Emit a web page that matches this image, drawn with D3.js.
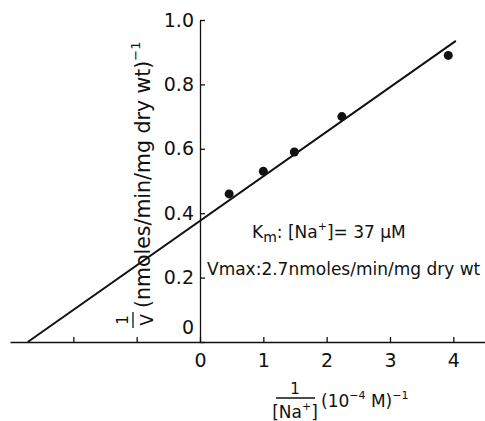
<!DOCTYPE html>
<html>
<head>
<meta charset="utf-8">
<script src="https://cdn.jsdelivr.net/npm/d3@7"></script>
<style>
  body { margin: 0; background: #fff; }
  svg { display: block; }
  text { font-family: "DejaVu Sans", sans-serif; fill: #111; }
</style>
</head>
<body>
<script>
// reciprocal Na+ concentration (10^-4 M)^-1 and reciprocal velocity
const invNa = [0.46, 1.0, 1.49, 2.24, 3.92];
const invV = [0.46, 0.53, 0.59, 0.70, 0.89];

// fitted Lineweaver-Burk line (end points)
const fitX = [-2.72, 4.04];
const fitY = [0, 0.935];

const xTicks = [-2, -1, 0, 1, 2, 3, 4];
const yTicks = [0, 0.2, 0.4, 0.6, 0.8, 1.0];

const width = 485, height = 421;

const svg = d3.select("body").append("svg")
    .attr("width", width)
    .attr("height", height);

const x = d3.scaleLinear().domain([-3, 4.5]).range([10, 485]);
const y = d3.scaleLinear().domain([0, 1]).range([342, 20]);

// x axis, ticks pointing up
const xAxis = svg.append("g")
    .attr("transform", `translate(0,${y(0)})`)
    .call(d3.axisBottom(x)
        .tickValues(xTicks)
        .tickFormat(d => d >= 0 ? d : "")
        .tickSizeInner(-5)
        .tickSizeOuter(0)
        .tickPadding(12));

// y axis, ticks pointing right
const yAxis = svg.append("g")
    .attr("transform", `translate(${x(0)},0)`)
    .call(d3.axisLeft(y)
        .tickValues(yTicks)
        .tickFormat(d => d === 0 ? "0" : d3.format(".1f")(d))
        .tickSizeInner(-5)
        .tickSizeOuter(0)
        .tickPadding(6));

[xAxis, yAxis].forEach(g => {
    g.selectAll("path, line").attr("stroke", "#111").attr("stroke-width", 1.3);
    g.selectAll("text").attr("font-size", 19).attr("fill", "#111");
});
// zero on the y axis sits above the x axis
yAxis.selectAll(".tick text").filter(d => d === 0).attr("dy", "-0.45em");

// fitted line
svg.append("path")
    .datum(d3.zip(fitX, fitY))
    .attr("d", d3.line(d => x(d[0]), d => y(d[1])))
    .attr("fill", "none")
    .attr("stroke", "#111")
    .attr("stroke-width", 2);

// data points
svg.selectAll("circle.pt")
    .data(d3.zip(invNa, invV))
    .join("circle")
    .attr("class", "pt")
    .attr("cx", d => x(d[0]))
    .attr("cy", d => y(d[1]))
    .attr("r", 4.5)
    .attr("fill", "#111");

// annotations
const km = svg.append("text").attr("x", 252).attr("y", 238).attr("font-size", 17);
km.append("tspan").text("K");
km.append("tspan").attr("font-size", 14).attr("dy", 4).text("m");
km.append("tspan").attr("dy", -4).text(": [Na");
km.append("tspan").attr("font-size", 11).attr("dy", -8).text("+");
km.append("tspan").attr("dy", 8).text("]= 37 \u00b5M");

svg.append("text")
    .attr("x", 207).attr("y", 275)
    .attr("font-size", 17)
    .text("Vmax:2.7nmoles/min/mg dry wt");

// x axis title: 1/[Na+] (10^-4 M)^-1
const xt = svg.append("g");
xt.append("text").attr("x", 295).attr("y", 394).attr("text-anchor", "middle")
    .attr("font-size", 15).text("1");
xt.append("line").attr("x1", 276).attr("x2", 315).attr("y1", 398).attr("y2", 398)
    .attr("stroke", "#111").attr("stroke-width", 1.3);
const na = xt.append("text").attr("x", 295).attr("y", 418).attr("text-anchor", "middle")
    .attr("font-size", 17);
na.append("tspan").text("[Na");
na.append("tspan").attr("font-size", 11).attr("dy", -8).text("+");
na.append("tspan").attr("dy", 8).text("]");
const unit = xt.append("text").attr("x", 321).attr("y", 407).attr("font-size", 17);
unit.append("tspan").text("(10");
unit.append("tspan").attr("font-size", 11).attr("dy", -8).text("\u22124");
unit.append("tspan").attr("dy", 8).text(" M)");
unit.append("tspan").attr("font-size", 11).attr("dy", -8).text("\u22121");

// y axis title, rotated
const yt = svg.append("g").attr("transform", "rotate(-90)");
yt.append("text").attr("x", -320).attr("y", 128).attr("text-anchor", "middle")
    .attr("font-size", 15).text("1");
yt.append("line").attr("x1", -328).attr("x2", -312).attr("y1", 133).attr("y2", 133)
    .attr("stroke", "#111").attr("stroke-width", 1.3);
yt.append("text").attr("x", -320).attr("y", 153).attr("text-anchor", "middle")
    .attr("font-size", 17).text("V");
const ylab = yt.append("text").attr("x", -308).attr("y", 150).attr("font-size", 20.5);
ylab.append("tspan").text("(nmoles/min/mg dry wt)");
ylab.append("tspan").attr("font-size", 13).attr("dy", -10).text("\u22121");
</script>
</body>
</html>
